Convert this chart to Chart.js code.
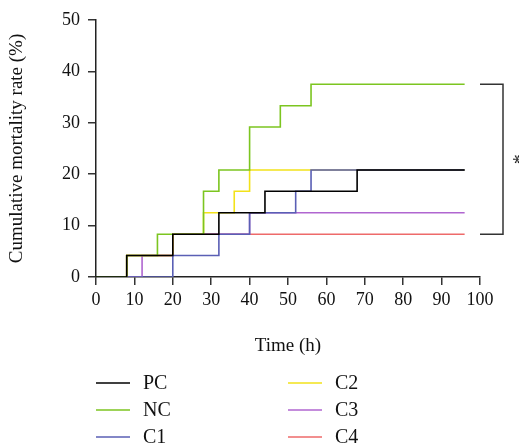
<!DOCTYPE html>
<html>
<head>
<meta charset="utf-8">
<script src="https://cdn.jsdelivr.net/npm/chart.js@4"></script>
<style>
  html, body { margin: 0; padding: 0; background: #fff; }
  #wrap { width: 519px; height: 447px; }
</style>
</head>
<body>
<div id="wrap"><canvas id="chart" width="519" height="447"></canvas></div>
<script>
// time points (h) where each group steps up, and the rate (%) after the step
const pcTimes = [0, 8, 20, 32, 44, 68, 96];
const pcRates = [0, 4.17, 8.33, 12.5, 16.67, 20.83, 20.83];
const ncTimes = [0, 8, 16, 28, 32, 40, 48, 56, 96];
const ncRates = [0, 4.17, 8.33, 16.67, 20.83, 29.17, 33.33, 37.5, 37.5];
const c1Times = [0, 20, 32, 40, 52, 56, 96];
const c1Rates = [0, 4.17, 8.33, 12.5, 16.67, 20.83, 20.83];
const c2Times = [0, 8, 20, 28, 36, 40, 96];
const c2Rates = [0, 4.17, 8.33, 12.5, 16.67, 20.83, 20.83];
const c3Times = [0, 12, 20, 40, 96];
const c3Rates = [0, 4.17, 8.33, 12.5, 12.5];
const c4Times = [0, 8, 20, 96];
const c4Rates = [0, 4.17, 8.33, 8.33];

const xTicks = [0, 10, 20, 30, 40, 50, 60, 70, 80, 90, 100];
const yTicks = [0, 10, 20, 30, 40, 50];

// significance bracket between NC and C4 end values
const bracketTop = 37.5;
const bracketBottom = 8.33;

const FONT = "'Liberation Serif', 'DejaVu Serif', serif";

function pts(xs, ys) {
  return xs.map((x, i) => ({ x: x, y: ys[i] }));
}

function series(label, xs, ys, color) {
  return {
    label: label,
    data: pts(xs, ys),
    borderColor: color,
    backgroundColor: color,
    borderWidth: 1.6,
    stepped: true,
    pointRadius: 0,
    fill: false
  };
}

// two-column legend under the axis
const legendPlugin = {
  id: 'colLegend',
  afterDraw(chart) {
    const ctx = chart.ctx;
    const ds = chart.data.datasets;
    const cols = [{ line: 96, text: 143 }, { line: 288, text: 335 }];
    const rows = [383, 410, 437];
    ctx.save();
    ctx.font = '20px ' + FONT;
    ctx.textBaseline = 'middle';
    ctx.fillStyle = '#111';
    ds.forEach((d, i) => {
      const c = cols[Math.floor(i / 3)];
      const y = rows[i % 3];
      ctx.strokeStyle = d.borderColor;
      ctx.lineWidth = 1.6;
      ctx.beginPath();
      ctx.moveTo(c.line, y);
      ctx.lineTo(c.line + 34, y);
      ctx.stroke();
      ctx.fillText(d.label, c.text, y + 1);
    });
    ctx.restore();
  }
};

const bracketPlugin = {
  id: 'bracket',
  afterDraw(chart) {
    const ctx = chart.ctx;
    const ys = chart.scales.y;
    const x0 = chart.chartArea.right;
    const x1 = x0 + 23;
    const yt = ys.getPixelForValue(bracketTop);
    const yb = ys.getPixelForValue(bracketBottom);
    ctx.save();
    ctx.strokeStyle = '#333';
    ctx.lineWidth = 1.5;
    ctx.beginPath();
    ctx.moveTo(x0, yt);
    ctx.lineTo(x1, yt);
    ctx.lineTo(x1, yb);
    ctx.lineTo(x0, yb);
    ctx.stroke();
    ctx.translate(x1 + 12, (yt + yb) / 2);
    ctx.rotate(Math.PI / 2);
    ctx.font = '20px ' + FONT;
    ctx.fillStyle = '#222';
    ctx.textAlign = 'center';
    ctx.textBaseline = 'middle';
    ctx.fillText('*', 0, 3);
    ctx.restore();
  }
};

new Chart(document.getElementById('chart'), {
  type: 'line',
  data: {
    datasets: [
      series('PC', pcTimes, pcRates, '#000000'),
      series('NC', ncTimes, ncRates, '#7cc520'),
      series('C1', c1Times, c1Rates, '#5a5fb5'),
      series('C2', c2Times, c2Rates, '#f2e21a'),
      series('C3', c3Times, c3Rates, '#b066d0'),
      series('C4', c4Times, c4Rates, '#ee6a6a')
    ]
  },
  options: {
    responsive: false,
    animation: false,
    layout: { padding: { top: 20, right: 39, bottom: 90, left: 0 } },
    plugins: {
      legend: { display: false },
      tooltip: { enabled: false }
    },
    scales: {
      x: {
        type: 'linear',
        min: 0,
        max: 100,
        afterBuildTicks(scale) { scale.ticks = xTicks.map(v => ({ value: v })); },
        afterFit(scale) { scale.height = 80; },
        grid: { drawOnChartArea: false, drawTicks: true, tickLength: 8, color: '#333', lineWidth: 1.5 },
        border: { color: '#222', width: 1.5 },
        ticks: { color: '#111', padding: 4, font: { family: FONT, size: 18 } },
        title: {
          display: true,
          text: 'Time (h)',
          color: '#111',
          font: { family: FONT, size: 19 },
          padding: { top: 0, bottom: 0 }
        }
      },
      y: {
        type: 'linear',
        min: 0,
        max: 50,
        afterBuildTicks(scale) { scale.ticks = yTicks.map(v => ({ value: v })); },
        afterFit(scale) { scale.width = 96; },
        grid: { drawOnChartArea: false, drawTicks: true, tickLength: 8, color: '#333', lineWidth: 1.5 },
        border: { color: '#222', width: 1.5 },
        ticks: { color: '#111', padding: 8, font: { family: FONT, size: 18 } },
        title: {
          display: true,
          text: 'Cumulative mortality rate (%)',
          color: '#111',
          font: { family: FONT, size: 19 },
          padding: { top: 6, bottom: 0 }
        }
      }
    }
  },
  plugins: [legendPlugin, bracketPlugin]
});
</script>
</body>
</html>
